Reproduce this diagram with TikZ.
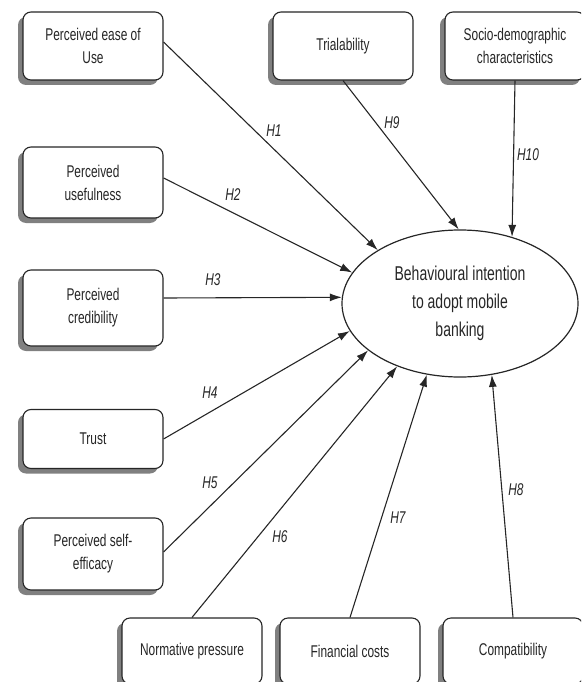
\documentclass[tikz,border=0pt]{standalone}
\usepackage{fontspec}
\setmainfont{Liberation Sans}[FakeStretch=0.7]
\usetikzlibrary{shapes.geometric,shadows,arrows.meta}
\begin{document}
\begin{tikzpicture}[x=1pt,y=-1pt,
  box/.style={draw=black!85, line width=1.1pt, rounded corners=8pt, fill=white,
    minimum width=140pt, inner sep=0pt, align=center, text=black!85,
    font=\fontsize{17}{23}\selectfont,
    drop shadow={shadow xshift=-5pt, shadow yshift=-5pt, fill=black!50, opacity=1}},
  hyp/.style={font=\fontsize{17}{20}\selectfont\itshape, text=black!85, inner sep=0pt},
  link/.style={draw=black!85, line width=1.1pt, -{Latex[length=12pt,width=8pt]}}]
\useasboundingbox (0,0) rectangle (581,682);
\clip (0,0) rectangle (581,682);

\node[box, minimum height=68pt] (ease) at (93,46) {Perceived ease of\\Use};
\node[box, minimum height=71pt] (useful) at (93,182.5) {Perceived\\usefulness};
\node[box, minimum height=76pt] (cred) at (93,308) {Perceived\\credibility};
\node[box, minimum height=59pt] (trust) at (93,439) {Trust};
\node[box, minimum height=72pt] (self) at (93,554) {Perceived self-\\efficacy};
\node[box, minimum height=68pt] (trial) at (343,46) {Trialability};
\node[box, minimum height=68pt] (socio) at (515,46) {Socio-demographic\\characteristics};
\node[box, minimum height=66pt] (norm) at (192,651) {Normative pressure};
\node[box, minimum height=66pt] (fin) at (350,651) {Financial costs};
\node[box, minimum height=66pt] (compat) at (513,651) {Compatibility};

\node[ellipse, draw=black!85, line width=1.2pt, minimum width=236pt, minimum height=147pt,
  inner sep=0pt, align=center, font=\fontsize{20}{28}\selectfont, text=black!85]
  (bi) at (460,303.5) {Behavioural intention\\to adopt mobile\\banking};

\draw[link] ([yshift=4pt]ease.east) -- (bi.147.8);
\draw[link] ([yshift=4.5pt]useful.east) -- (bi.164.8);
\draw[link] ([yshift=10pt]cred.east) -- (bi.177.3);
\draw[link] (trust.east) -- (bi.194.8);
\draw[link] ([yshift=2pt]self.east) -- (bi.207.1);
\draw[link] (norm.north) -- (bi.225.7);
\draw[link] (fin.north) -- (bi.245.9);
\draw[link] (compat.north) -- (bi.294.2);
\draw[link] (trial.south) -- (bi.91.6);
\draw[link] (socio.south) -- (bi.52.3);

\node[hyp] (h1) at (274,131) {H1};
\node[hyp] (h2) at (233,195) {H2};
\node[hyp] (h3) at (213,280) {H3};
\node[hyp] (h4) at (210,393) {H4};
\node[hyp] (h5) at (210,483) {H5};
\node[hyp] (h6) at (280,537) {H6};
\node[hyp] (h7) at (398,518) {H7};
\node[hyp] (h8) at (516,490) {H8};
\node[hyp] (h9) at (392,123) {H9};
\node[hyp] (h10) at (528,155) {H10};
\end{tikzpicture}
\end{document}
